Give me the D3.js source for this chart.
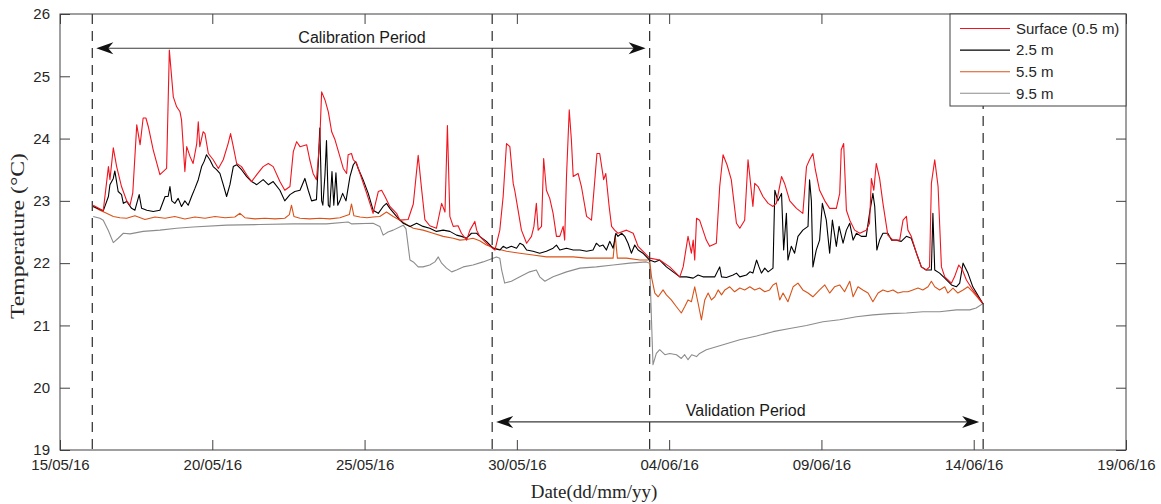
<!DOCTYPE html>
<html>
<head>
<meta charset="utf-8">
<script src="https://cdn.jsdelivr.net/npm/d3@7"></script>
<style>
  body { margin: 0; background: #fff; }
  svg { display: block; }
</style>
</head>
<body>
<svg id="chart" width="1161" height="504"></svg>
<script>
// Water temperature profile at four depths, 15/05/16 - 19/06/16.
// Each record: [days since 15/05/16 00:00, temperature in °C]

const xTickLabels = ["15/05/16", "20/05/16", "25/05/16", "30/05/16", "04/06/16", "09/06/16", "14/06/16", "19/06/16"];
const yTickValues = [19, 20, 21, 22, 23, 24, 25, 26];
const seriesNames = ["Surface (0.5 m)", "2.5 m", "5.5 m", "9.5 m"];
const seriesColors = ["#f0141e", "#000000", "#d95319", "#8c8c8c"];

// Calibration / validation windows (days since 15/05/16)
const calibrationPeriod = [1.06, 19.36];
const validationPeriod = [14.19, 30.31];
const periodLabels = ["Calibration Period", "Validation Period"];

const surface = [
  [1.09,22.93],[1.42,22.84],[1.59,23.55],[1.64,23.34],[1.75,23.85],[1.86,23.55],[2.02,23.23],[2.19,23.00],
  [2.30,22.93],[2.39,23.13],[2.52,24.22],[2.63,23.90],[2.73,24.33],[2.82,24.33],[2.90,24.19],[3.06,23.82],
  [3.28,23.42],[3.50,23.52],[3.59,25.42],[3.72,24.67],[3.83,24.51],[3.94,24.43],[3.99,24.30],[4.10,23.47],
  [4.16,23.87],[4.27,23.71],[4.37,23.60],[4.49,23.92],[4.54,24.27],[4.59,23.87],[4.70,24.11],[4.76,24.08],
  [4.87,23.76],[5.03,23.66],[5.20,23.52],[5.36,23.66],[5.52,23.92],[5.60,24.08],[5.69,23.87],[5.80,23.60],
  [5.96,23.55],[6.13,23.42],[6.29,23.31],[6.46,23.42],[6.67,23.55],[6.84,23.60],[7.00,23.55],[7.22,23.31],
  [7.38,23.17],[7.55,23.23],[7.66,23.79],[7.77,23.95],[7.88,23.87],[8.10,23.90],[8.20,23.66],[8.31,23.44],
  [8.42,23.34],[8.53,23.98],[8.59,24.75],[8.70,24.62],[8.81,24.43],[8.92,24.11],[9.03,23.98],[9.19,23.71],
  [9.30,23.52],[9.41,23.44],[9.46,23.74],[9.57,23.76],[9.63,23.66],[9.74,23.60],[9.85,23.44],[10.07,23.12],
  [10.28,22.80],[10.45,23.15],[10.56,23.17],[10.67,23.07],[10.83,22.91],[11.05,22.80],[11.16,22.69],[11.43,22.70],
  [11.60,22.95],[11.76,23.73],[11.87,23.20],[11.98,22.70],[12.14,22.60],[12.36,22.56],[12.53,22.96],[12.64,22.82],
  [12.72,24.21],[12.80,22.75],[12.91,22.59],[13.07,22.60],[13.18,22.48],[13.35,22.37],[13.46,22.53],[13.62,22.67],
  [13.68,22.53],[13.78,22.43],[14.00,22.32],[14.28,22.21],[14.44,22.53],[14.55,23.07],[14.66,23.92],[14.77,23.87],
  [14.88,23.28],[14.93,23.17],[15.04,22.85],[15.15,22.53],[15.32,22.32],[15.48,22.43],[15.56,22.59],[15.64,22.96],
  [15.70,22.53],[15.81,22.59],[15.88,23.68],[15.97,23.17],[16.08,23.04],[16.19,22.80],[16.30,22.43],[16.41,22.43],
  [16.52,22.59],[16.57,22.37],[16.63,23.39],[16.72,24.46],[16.79,23.98],[16.85,23.39],[17.01,23.44],[17.12,23.23],
  [17.29,22.75],[17.45,22.69],[17.56,23.34],[17.63,23.76],[17.72,23.76],[17.85,23.34],[17.92,23.44],[18.03,22.91],
  [18.11,22.59],[18.21,22.53],[18.32,22.48],[18.60,22.53],[18.82,22.48],[18.98,22.27],[19.20,22.16],[19.36,22.08],
  [19.69,22.05],[20.02,21.94],[20.35,21.78],[20.46,21.94],[20.62,22.43],[20.73,22.16],[20.79,22.37],[20.84,22.05],
  [20.90,22.72],[21.00,22.69],[21.22,22.37],[21.33,22.27],[21.55,22.32],[21.66,23.23],[21.77,23.74],[21.90,23.58],
  [22.04,23.34],[22.21,22.64],[22.32,22.56],[22.48,22.69],[22.59,23.66],[22.65,23.39],[22.75,22.91],[22.81,23.28],
  [22.92,23.23],[23.08,23.07],[23.25,22.96],[23.41,22.91],[23.52,22.96],[23.69,23.39],[23.79,23.28],[23.96,23.00],
  [24.18,22.88],[24.39,22.80],[24.51,23.55],[24.61,23.66],[24.72,23.76],[24.80,23.50],[24.94,23.17],[25.11,23.00],
  [25.27,22.88],[25.49,22.88],[25.60,23.12],[25.65,23.82],[25.73,23.92],[25.82,22.85],[25.93,22.69],[26.09,22.53],
  [26.26,22.48],[26.47,22.53],[26.58,22.64],[26.64,23.36],[26.72,23.17],[26.80,23.60],[26.91,23.36],[27.02,22.96],
  [27.18,22.45],[27.35,22.37],[27.57,22.37],[27.68,22.69],[27.79,22.75],[27.84,22.53],[27.95,22.43],[28.12,22.16],
  [28.28,21.94],[28.44,21.89],[28.55,21.94],[28.61,23.28],[28.72,23.66],[28.83,23.23],[28.94,21.94],[29.05,21.78],
  [29.27,21.68],[29.37,21.78],[29.51,21.97],[29.63,21.89],[29.76,21.73],[29.97,21.57],[30.30,21.35]
];

const depth25 = [
  [1.09,22.91],[1.42,22.84],[1.59,23.07],[1.64,23.26],[1.75,23.36],[1.80,23.48],[1.91,23.15],[2.02,23.10],
  [2.08,22.96],[2.19,22.99],[2.35,22.88],[2.46,22.85],[2.60,23.10],[2.68,22.88],[2.85,22.85],[3.06,22.83],
  [3.28,22.85],[3.45,23.07],[3.55,23.07],[3.61,23.23],[3.67,23.00],[3.77,22.96],[3.88,23.04],[3.99,22.91],
  [4.10,23.00],[4.21,22.93],[4.32,23.07],[4.43,23.20],[4.54,23.34],[4.65,23.55],[4.73,23.63],[4.81,23.74],
  [4.92,23.66],[5.03,23.55],[5.14,23.50],[5.25,23.44],[5.36,23.26],[5.47,23.07],[5.58,23.26],[5.69,23.55],
  [5.80,23.58],[5.96,23.50],[6.13,23.39],[6.29,23.31],[6.46,23.26],[6.67,23.34],[6.84,23.26],[7.00,23.31],
  [7.22,23.17],[7.38,23.00],[7.55,23.10],[7.71,23.15],[7.88,23.17],[8.04,23.36],[8.15,23.17],[8.26,23.00],
  [8.42,23.02],[8.48,23.60],[8.53,24.17],[8.59,23.00],[8.63,22.93],[8.70,23.42],[8.75,23.97],[8.81,22.93],
  [8.86,22.90],[8.93,23.47],[8.99,22.93],[9.06,23.45],[9.12,22.93],[9.19,23.00],[9.28,23.12],[9.39,23.00],
  [9.52,23.39],[9.63,23.58],[9.71,23.63],[9.79,23.52],[9.95,23.34],[10.12,23.12],[10.28,22.85],[10.45,22.80],
  [10.61,22.91],[10.72,22.96],[10.83,22.88],[11.05,22.75],[11.27,22.64],[11.49,22.59],[11.71,22.64],[11.92,22.59],
  [12.14,22.56],[12.36,22.51],[12.58,22.53],[12.80,22.51],[13.02,22.45],[13.18,22.43],[13.35,22.40],[13.51,22.48],
  [13.68,22.48],[13.78,22.43],[14.00,22.35],[14.22,22.24],[14.44,22.21],[14.55,22.27],[14.66,22.24],[14.82,22.27],
  [14.99,22.24],[15.10,22.32],[15.21,22.29],[15.32,22.21],[15.53,22.19],[15.75,22.16],[15.97,22.19],[16.19,22.24],
  [16.30,22.29],[16.41,22.21],[16.63,22.24],[16.85,22.21],[17.07,22.21],[17.29,22.19],[17.50,22.21],[17.61,22.32],
  [17.72,22.27],[17.83,22.29],[17.94,22.21],[18.05,22.35],[18.16,22.24],[18.25,22.48],[18.32,22.43],[18.44,22.48],
  [18.54,22.43],[18.65,22.32],[18.76,22.16],[18.87,22.29],[18.98,22.21],[19.14,22.16],[19.36,22.05],[19.53,22.02],
  [19.69,22.05],[19.91,21.94],[20.13,21.86],[20.35,21.78],[20.57,21.78],[20.79,21.76],[20.95,21.81],[21.11,21.78],
  [21.33,21.78],[21.50,21.78],[21.66,21.94],[21.72,21.78],[21.88,21.77],[22.10,21.81],[22.21,21.84],[22.32,21.78],
  [22.54,21.81],[22.65,21.86],[22.75,21.84],[22.87,22.05],[22.95,21.94],[23.03,21.84],[23.14,21.92],[23.25,21.86],
  [23.41,21.92],[23.47,23.17],[23.57,23.00],[23.69,23.12],[23.76,22.21],[23.85,22.80],[23.90,22.05],[24.01,22.27],
  [24.12,22.16],[24.23,22.43],[24.39,22.53],[24.56,22.59],[24.61,23.34],[24.67,23.00],[24.72,21.94],[24.83,22.21],
  [24.94,22.37],[25.03,22.96],[25.16,22.69],[25.27,22.16],[25.36,22.69],[25.49,22.27],[25.58,22.59],[25.71,22.32],
  [25.82,22.53],[25.93,22.64],[26.04,22.37],[26.15,22.48],[26.31,22.43],[26.47,22.43],[26.58,22.80],[26.69,23.12],
  [26.75,22.91],[26.82,22.21],[26.91,22.37],[27.02,22.48],[27.18,22.48],[27.30,22.37],[27.46,22.37],[27.62,22.35],
  [27.79,22.43],[27.95,22.40],[28.12,22.16],[28.28,21.94],[28.44,21.89],[28.61,21.89],[28.66,22.80],[28.72,21.89],
  [28.88,21.84],[29.05,21.76],[29.27,21.65],[29.43,21.62],[29.54,21.68],[29.65,22.00],[29.81,21.84],[29.97,21.62],
  [30.30,21.35]
];

const depth55 = [
  [1.09,22.91],[1.31,22.85],[1.53,22.80],[1.75,22.75],[1.97,22.73],[2.19,22.72],[2.46,22.76],[2.79,22.70],
  [3.12,22.74],[3.45,22.72],[3.77,22.75],[4.10,22.71],[4.43,22.74],[4.76,22.72],[5.09,22.75],[5.42,22.73],
  [5.74,22.74],[5.91,22.80],[6.07,22.73],[6.40,22.71],[6.73,22.72],[7.06,22.71],[7.38,22.72],[7.53,22.78],
  [7.60,22.93],[7.68,22.75],[7.88,22.72],[8.20,22.71],[8.53,22.72],[8.86,22.71],[9.19,22.73],[9.50,22.78],
  [9.57,22.95],[9.65,22.76],[9.85,22.74],[10.08,22.73],[10.28,22.74],[10.50,22.75],[10.72,22.82],[10.94,22.75],
  [11.16,22.69],[11.38,22.62],[11.60,22.56],[11.92,22.53],[12.25,22.48],[12.58,22.43],[12.91,22.40],[13.13,22.37],
  [13.35,22.38],[13.56,22.40],[13.78,22.36],[14.00,22.29],[14.28,22.24],[14.66,22.19],[15.10,22.16],[15.53,22.13],
  [15.97,22.10],[16.41,22.10],[16.85,22.10],[17.29,22.08],[17.72,22.08],[18.16,22.08],[18.23,22.45],[18.30,22.08],
  [18.60,22.08],[19.04,22.05],[19.36,22.05],[19.42,21.78],[19.53,21.52],[19.64,21.46],[19.80,21.57],[19.91,21.49],
  [20.07,21.41],[20.24,21.30],[20.40,21.20],[20.51,21.30],[20.62,21.41],[20.73,21.38],[20.84,21.62],[20.95,21.36],
  [21.06,21.09],[21.17,21.41],[21.28,21.52],[21.39,21.41],[21.50,21.46],[21.61,21.57],[21.72,21.49],[21.83,21.57],
  [21.99,21.62],[22.15,21.54],[22.32,21.60],[22.48,21.57],[22.65,21.62],[22.81,21.57],[22.97,21.60],[23.14,21.54],
  [23.30,21.57],[23.41,21.65],[23.52,21.68],[23.63,21.41],[23.74,21.52],[23.90,21.38],[24.07,21.62],[24.23,21.68],
  [24.39,21.57],[24.56,21.52],[24.72,21.46],[24.94,21.57],[25.11,21.65],[25.27,21.52],[25.43,21.62],[25.60,21.65],
  [25.76,21.54],[25.93,21.71],[26.04,21.46],[26.20,21.62],[26.36,21.57],[26.53,21.52],[26.69,21.38],[26.86,21.52],
  [27.02,21.57],[27.18,21.54],[27.35,21.57],[27.51,21.52],[27.68,21.54],[27.84,21.54],[28.00,21.57],[28.17,21.60],
  [28.33,21.57],[28.50,21.62],[28.61,21.71],[28.72,21.62],[28.88,21.57],[29.05,21.62],[29.15,21.52],[29.32,21.60],
  [29.48,21.52],[29.65,21.57],[29.81,21.62],[29.97,21.54],[30.14,21.44],[30.30,21.35]
];

const depth95 = [
  [1.09,22.75],[1.31,22.72],[1.42,22.69],[1.59,22.52],[1.75,22.33],[1.91,22.40],[2.08,22.48],[2.30,22.47],
  [2.73,22.51],[3.28,22.53],[3.83,22.56],[4.37,22.58],[5.47,22.61],[6.56,22.62],[7.66,22.63],[8.75,22.63],
  [9.46,22.66],[9.58,22.63],[10.28,22.64],[10.50,22.59],[10.61,22.45],[10.77,22.50],[10.94,22.53],[11.27,22.61],
  [11.36,22.55],[11.49,22.05],[11.60,22.02],[11.76,21.94],[11.92,21.94],[12.14,21.97],[12.31,22.02],[12.42,22.10],
  [12.53,22.00],[12.69,21.92],[12.86,21.86],[13.02,21.89],[13.24,21.94],[13.56,21.97],[13.89,22.02],[14.22,22.08],
  [14.33,22.10],[14.44,22.08],[14.50,21.89],[14.60,21.68],[14.82,21.71],[15.10,21.78],[15.42,21.86],[15.64,21.89],
  [15.75,21.78],[15.92,21.71],[16.19,21.78],[16.63,21.86],[17.07,21.92],[17.61,21.94],[18.16,21.97],[18.71,22.00],
  [19.25,22.02],[19.36,22.00],[19.42,21.09],[19.47,20.37],[19.58,20.55],[19.69,20.61],[19.86,20.53],[20.02,20.55],
  [20.24,20.53],[20.40,20.47],[20.51,20.53],[20.62,20.45],[20.74,20.53],[20.90,20.50],[21.00,20.55],[21.22,20.61],
  [21.77,20.69],[22.32,20.77],[22.87,20.83],[23.41,20.90],[23.96,20.95],[24.51,21.00],[25.05,21.06],[25.60,21.09],
  [26.15,21.14],[26.69,21.17],[27.24,21.19],[27.79,21.20],[28.33,21.22],[28.88,21.22],[29.43,21.25],[29.87,21.25],
  [30.08,21.28],[30.30,21.35]
];

const allSeries = [surface, depth25, depth55, depth95];

// ---- layout ----
const W = 1161, H = 504;
const plot = { left: 60, right: 1126, top: 14, bottom: 450 };
const tickFont = "'Liberation Sans', Arial, sans-serif";
const titleFont = "'Liberation Serif', 'Times New Roman', serif";
const axisColor = "#404040";
const textColor = "#262626";

const parseLabel = d3.utcParse("%d/%m/%y");
const formatLabel = d3.utcFormat("%d/%m/%y");
const t0 = Date.UTC(2016, 4, 15);
const toDate = d => new Date(t0 + d * 864e5);

const tickDates = xTickLabels.map(parseLabel);

const x = d3.scaleUtc()
  .domain([tickDates[0], tickDates[tickDates.length - 1]])
  .range([plot.left, plot.right]);
const y = d3.scaleLinear()
  .domain([d3.min(yTickValues), d3.max(yTickValues)])
  .range([plot.bottom, plot.top]);

const svg = d3.select("#chart");

// ---- axes with inward ticks on all four sides ----
function styleAxis(g, withText) {
  g.select(".domain").remove();
  g.selectAll(".tick line").attr("stroke", axisColor).attr("stroke-width", 1);
  g.selectAll(".tick text")
    .attr("fill", textColor)
    .style("font-family", tickFont)
    .style("font-size", "15px");
  if (!withText) g.selectAll(".tick text").remove();
}

svg.append("g")
  .attr("transform", `translate(0,${plot.bottom})`)
  .call(d3.axisBottom(x).tickValues(tickDates).tickFormat(formatLabel)
    .tickSizeInner(-10).tickSizeOuter(0).tickPadding(9))
  .call(g => styleAxis(g, true));

svg.append("g")
  .attr("transform", `translate(0,${plot.top})`)
  .call(d3.axisTop(x).tickValues(tickDates).tickSizeInner(-10).tickSizeOuter(0))
  .call(g => styleAxis(g, false));

svg.append("g")
  .attr("transform", `translate(${plot.left},0)`)
  .call(d3.axisLeft(y).tickValues(yTickValues).tickFormat(d3.format("d"))
    .tickSizeInner(-10).tickSizeOuter(0).tickPadding(10))
  .call(g => styleAxis(g, true));

svg.append("g")
  .attr("transform", `translate(${plot.right},0)`)
  .call(d3.axisRight(y).tickValues(yTickValues).tickSizeInner(-10).tickSizeOuter(0))
  .call(g => styleAxis(g, false));

// ---- data lines (deepest first so the surface sits on top) ----
const line = d3.line()
  .x(d => x(toDate(d[0])))
  .y(d => y(d[1]));

const lineOrder = [3, 2, 1, 0];
svg.append("g")
  .selectAll("path")
  .data(lineOrder)
  .join("path")
  .attr("d", i => line(allSeries[i]))
  .attr("fill", "none")
  .attr("stroke", i => seriesColors[i])
  .attr("stroke-width", 1.1)
  .attr("stroke-linejoin", "round");

// ---- period boundaries ----
const boundaries = [calibrationPeriod[0], validationPeriod[0], calibrationPeriod[1], validationPeriod[1]];
svg.append("g")
  .selectAll("line")
  .data(boundaries)
  .join("line")
  .attr("x1", d => x(toDate(d))).attr("x2", d => x(toDate(d)))
  .attr("y1", plot.top).attr("y2", plot.bottom)
  .attr("stroke", "#2a2a2a")
  .attr("stroke-width", 1.2)
  .attr("stroke-dasharray", "10,7");

// ---- double-headed period arrows ----
function arrowHead(tipX, yy, dir) {
  const L = 17, hw = 6, notch = 12;
  return `M${tipX},${yy} L${tipX + dir * L},${yy - hw} L${tipX + dir * notch},${yy} L${tipX + dir * L},${yy + hw} Z`;
}

function periodArrow(period, tempLevel, label, labelShift, labelDy) {
  const xa = x(toDate(period[0])) + 4;
  const xb = x(toDate(period[1])) - 4;
  const yy = y(tempLevel);
  const g = svg.append("g");
  g.append("line")
    .attr("x1", xa + 10).attr("x2", xb - 10)
    .attr("y1", yy).attr("y2", yy)
    .attr("stroke", "#3a3a3a").attr("stroke-width", 1.2);
  g.append("path").attr("d", arrowHead(xa, yy, 1)).attr("fill", "#111");
  g.append("path").attr("d", arrowHead(xb, yy, -1)).attr("fill", "#111");
  g.append("text")
    .attr("x", (xa + xb) / 2 + labelShift)
    .attr("y", yy + labelDy)
    .attr("text-anchor", "middle")
    .attr("fill", "#1a1a1a")
    .style("font-family", tickFont)
    .style("font-size", "16px")
    .text(label);
}

periodArrow(calibrationPeriod, 25.45, periodLabels[0], -9, -5);
periodArrow(validationPeriod, 19.45, periodLabels[1], 8, -6);

// ---- plot frame ----
svg.append("rect")
  .attr("x", plot.left).attr("y", plot.top)
  .attr("width", plot.right - plot.left).attr("height", plot.bottom - plot.top)
  .attr("fill", "none").attr("stroke", axisColor).attr("stroke-width", 1);

// ---- legend ----
const legend = svg.append("g").attr("transform", `translate(950,${plot.top})`);
legend.append("rect")
  .attr("width", plot.right - 950).attr("height", 92)
  .attr("fill", "#fff").attr("stroke", axisColor).attr("stroke-width", 1);
const rows = legend.selectAll("g.row")
  .data(seriesNames)
  .join("g")
  .attr("class", "row")
  .attr("transform", (d, i) => `translate(0,${14.5 + i * 21.6})`);
rows.append("line")
  .attr("x1", 10).attr("x2", 60)
  .attr("stroke", (d, i) => seriesColors[i])
  .attr("stroke-width", 1.1);
rows.append("text")
  .attr("x", 66).attr("dy", "0.35em")
  .attr("fill", textColor)
  .style("font-family", tickFont)
  .style("font-size", "15px")
  .text(d => d);

// ---- axis titles ----
svg.append("text")
  .attr("x", (plot.left + plot.right) / 2 + 1)
  .attr("y", 498)
  .attr("text-anchor", "middle")
  .attr("fill", textColor)
  .style("font-family", titleFont)
  .style("font-size", "19px")
  .text("Date(dd/mm/yy)");

svg.append("text")
  .attr("transform", `translate(24,${(plot.top + plot.bottom) / 2 + 4}) rotate(-90)`)
  .attr("text-anchor", "middle")
  .attr("fill", textColor)
  .attr("textLength", 166)
  .attr("lengthAdjust", "spacingAndGlyphs")
  .style("font-family", titleFont)
  .style("font-size", "18px")
  .text("Temperature (°C)");
</script>
</body>
</html>
